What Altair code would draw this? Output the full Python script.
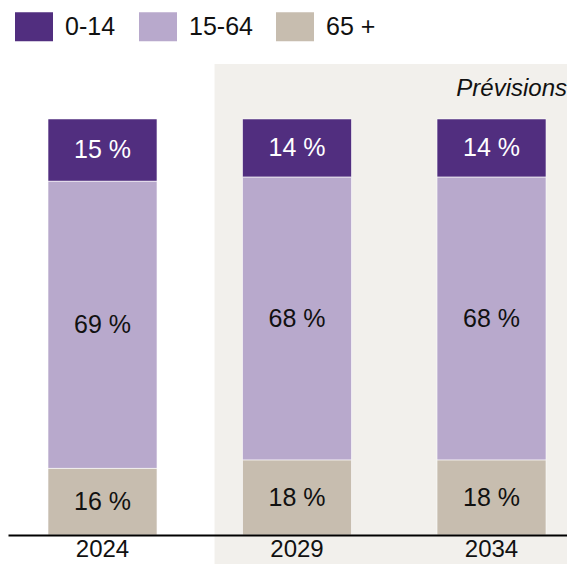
import altair as alt
import pandas as pd

years = ["2024", "2029", "2034"]
age_groups = ["0-14", "15-64", "65 +"]
share_0_14 = [15, 14, 14]
share_15_64 = [69, 68, 68]
share_65_plus = [16, 18, 18]
stack_order = {"0-14": 2, "15-64": 1, "65 +": 0}
colors = ["#512E7F", "#B8A9CC", "#C7BDAF"]
forecast_label = "Prévisions"

rows = []
for i, y in enumerate(years):
    for g, vals in zip(age_groups, [share_0_14, share_15_64, share_65_plus]):
        rows.append({"year": y, "age": g, "value": vals[i], "order": stack_order[g]})
df = pd.DataFrame(rows)

FONT = "Liberation Sans"
W, H = 559, 471
BOTTOM = 29

xscale = alt.Scale(domain=years, paddingInner=0.4396, paddingOuter=0.1568, align=0.656)
yscale = alt.Scale(domain=[0, 113.2], nice=False)

shade = alt.Chart(pd.DataFrame({"a": [1]})).mark_rect(
    color="#F2F0EC", xOffset=-28
).encode(
    x=alt.X(datum="2029", type="nominal", bandPosition=0, scale=xscale),
    x2=alt.value(W),
    y=alt.value(0),
    y2=alt.value(H + BOTTOM),
)

base = alt.Chart(df).transform_stack(
    stack="value", groupby=["year"], as_=["y0", "y1"],
    sort=[alt.SortField("order", order="ascending")],
).transform_calculate(
    mid="(datum.y0 + datum.y1) / 2",
    label="datum.value + ' %'",
)

bars = base.mark_bar(stroke="#ffffff", strokeWidth=0.6).encode(
    x=alt.X("year:N", scale=xscale, sort=years,
            axis=alt.Axis(title=None, labelAngle=0, labelAlign="center", bandPosition=0.5,
                          labelFont=FONT, labelFontSize=24,
                          labelColor="#111111", ticks=False, tickSize=0, labelPadding=14,
                          domainColor="#000000", domainWidth=2, zindex=1)),
    y=alt.Y("y0:Q", scale=yscale, axis=None),
    y2="y1:Q",
    color=alt.Color("age:N", scale=alt.Scale(domain=age_groups, range=colors),
                    legend=alt.Legend(title=None, orient="none", direction="horizontal",
                                      legendX=7, legendY=-56.5, padding=0,
                                      symbolType="M-1,-0.763H1V0.763H-1Z", symbolSize=1444,
                                      symbolStrokeWidth=0, symbolOpacity=1,
                                      labelFont=FONT, labelFontSize=25, labelColor="#111111",
                                      labelOffset=12, columnPadding=23)),
)

labels = base.mark_text(font=FONT, fontSize=25, baseline="middle", align="center").encode(
    x=alt.X("year:N", scale=xscale, sort=years),
    y=alt.Y("mid:Q", scale=yscale),
    text="label:N",
    color=alt.condition(alt.datum.age == "0-14", alt.value("#ffffff"), alt.value("#111111")),
)

prev = alt.Chart(pd.DataFrame({"t": [forecast_label]})).mark_text(
    font=FONT, fontSize=24, fontStyle="italic", align="right", baseline="alphabetic", color="#111111"
).encode(
    x=alt.value(W), y=alt.value(32), text="t:N"
)

chart = alt.layer(shade, bars, labels, prev).properties(
    width=W, height=H,
    autosize=alt.AutoSizeParams(type="none"),
    padding={"left": 0, "top": 56, "right": 0, "bottom": BOTTOM},
    background="#ffffff",
).configure_view(stroke=None)

chart.save("out.html", embed_options={"renderer": "svg", "actions": False})
